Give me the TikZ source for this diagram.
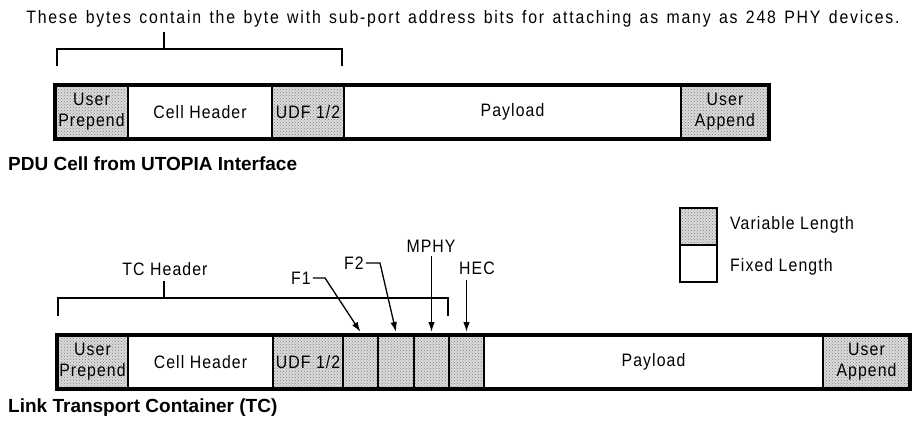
\documentclass[tikz,border=0pt]{standalone}
\usepackage{fontspec}
\usetikzlibrary{arrows.meta,patterns}
\newfontfamily\wf[FakeStretch=0.88,LetterSpace=6]{Liberation Sans}
\newfontfamily\sentfont[FakeStretch=0.88,LetterSpace=10,WordSpace=1.35]{Liberation Sans}
\newfontfamily\captfont{Liberation Sans Bold}
\begin{document}
\begin{tikzpicture}[x=1pt,y=-1pt,
  wtxt/.style={font=\wf\fontsize{18}{21}\selectfont, inner sep=0pt, align=center},
  capt/.style={font=\captfont\fontsize{19}{21}\selectfont, inner sep=0pt, anchor=west},
  seg/.style={draw, line width=1.6pt, inner sep=0pt, outer sep=0pt, minimum height=54pt, anchor=west,
     font=\wf\fontsize{18}{21}\selectfont, align=center},
  var/.style={seg, preaction={fill=black!14}, pattern=crosshatch dots, pattern color=black!50},
  fix/.style={seg, fill=white},
  outer/.style={line width=3.6pt},
  brk/.style={line width=1.3pt},
  arr/.style={line width=1.3pt, -{Latex[length=10pt,width=6.5pt]}}
]
\useasboundingbox (0,0) rectangle (914,424);

% top sentence
\node[font=\sentfont\fontsize{18}{21}\selectfont, inner sep=0pt] (sent) at (463,19) {These bytes contain the byte with sub-port address bits for attaching as many as 248 PHY devices.};

% top bracket
\coordinate (tb1) at (57,66);
\coordinate (tb2) at (57,49);
\coordinate (tb3) at (342,49);
\coordinate (tb4) at (342,66);
\coordinate (tbm) at (164,49);
\draw[brk] (tb1) -- (tb2) -- (tb3) -- (tb4);
\draw[brk] (tbm) -- ([yshift=-4pt]sent.south -| tbm);

% top bar
\node[var, minimum width=73pt] (a1) at (55,112) {User\\Prepend};
\node[fix, minimum width=144pt] (a2) at (128,112) {Cell Header};
\node[var, minimum width=72pt] (a3) at (272,112) {UDF 1/2};
\node[fix, minimum width=337pt] (a4) at (344,112) {Payload};
\node[var, minimum width=88pt] (a5) at (681,112) {User\\Append};
\draw[outer] (a1.north west) rectangle (a5.south east);

\node[capt] (c1) at (8,164) {PDU Cell from UTOPIA Interface};

% legend
\node[var, anchor=north west, minimum width=37pt, minimum height=37pt, line width=2pt] (lv) at (680,208) {};
\node[fix, anchor=north west, minimum width=37pt, minimum height=37pt, line width=2pt] (lf) at (lv.south west) {};
\node[wtxt, anchor=west] (lvt) at (730,225) {Variable Length};
\node[wtxt, anchor=west] (lft) at (730,267) {Fixed Length};

% bottom bar
\node[var, minimum width=71pt] (b1) at (57,362) {User\\Prepend};
\node[fix, minimum width=145pt] (b2) at (128,362) {Cell Header};
\node[var, minimum width=70pt] (b3) at (273,362) {UDF 1/2};
\node[var, minimum width=35pt] (b4) at (343,362) {};
\node[var, minimum width=36pt] (b5) at (378,362) {};
\node[var, minimum width=35pt] (b6) at (414,362) {};
\node[var, minimum width=35pt] (b7) at (449,362) {};
\node[fix, minimum width=339pt] (b8) at (484,362) {Payload};
\node[var, minimum width=87pt] (b9) at (823,362) {User\\Append};
\draw[outer] (b1.north west) rectangle (b9.south east);

\node[capt] (c2) at (8,408) {Link Transport Container (TC)};

% TC header bracket
\coordinate (bb1) at (58,316);
\coordinate (bb2) at (58,298);
\coordinate (bb3) at (448,298);
\coordinate (bb4) at (448,316);
\coordinate (bbm) at (164,298);
\node[wtxt] (tch) at (165,269) {TC Header};
\draw[brk] (bb1) -- (bb2) -- (bb3) -- (bb4);
\draw[brk] (bbm) -- ([yshift=-5pt]tch.south -| bbm);

% field labels and arrows
\node[wtxt] (f1) at (301,278) {F1};
\node[wtxt] (f2) at (354,263) {F2};
\node[wtxt] (mp) at (431,246) {MPHY};
\node[wtxt] (he) at (477,268) {HEC};
\coordinate (f1k) at (325,278);
\coordinate (f2k) at (380,263);
\draw[arr] (f1.east) ++(2pt,0) -- (f1k) -- ([yshift=3pt]b4.north);
\draw[arr] (f2.east) ++(2pt,0) -- (f2k) -- ([yshift=3pt]b5.north);
\draw[arr] (mp.south -| b6.north) ++(0,-4pt) -- ([yshift=3pt]b6.north);
\draw[arr] (he.south -| b7.north) ++(0,-5pt) -- ([yshift=3pt]b7.north);
\end{tikzpicture}
\end{document}
